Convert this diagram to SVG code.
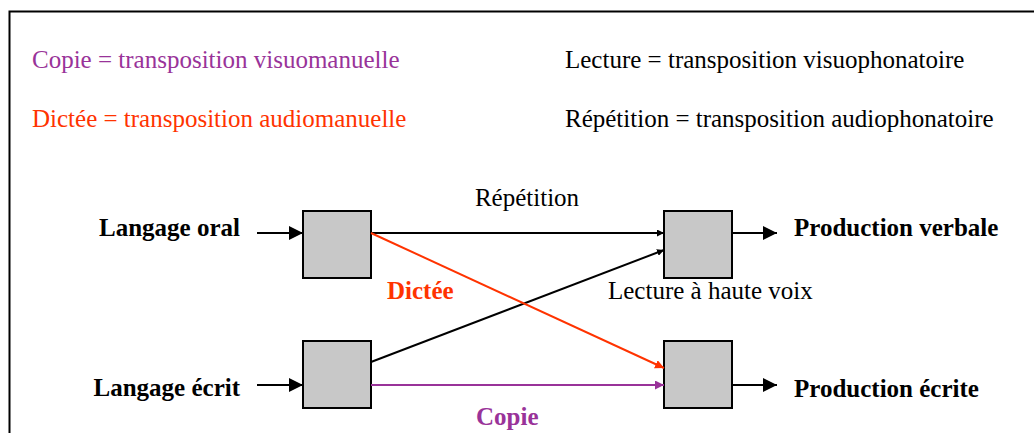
<svg xmlns="http://www.w3.org/2000/svg" width="1034" height="433" viewBox="0 0 1034 433">
<style>
text{font-family:"Liberation Serif","Times New Roman",serif;font-size:25px;}
.b{font-weight:bold;}
.box{fill:#c8c8c8;stroke:#000;stroke-width:2;}
.k{stroke:#000;stroke-width:2;fill:none;}
.r{stroke:#ff3300;stroke-width:2;fill:none;}
.p{stroke:#993399;stroke-width:2;fill:none;}
</style>
<defs>
<marker id="ab" viewBox="0 0 10 10" refX="10" refY="5" markerWidth="7" markerHeight="7" markerUnits="userSpaceOnUse" orient="auto"><path d="M0,0L10,5L0,10z" fill="#000"/></marker>
<marker id="abL" viewBox="0 0 10 10" refX="10" refY="5" markerWidth="14" markerHeight="14" markerUnits="userSpaceOnUse" orient="auto"><path d="M0,0L10,5L0,10z" fill="#000"/></marker>
<marker id="ar" viewBox="0 0 10 10" refX="10" refY="5" markerWidth="9" markerHeight="9" markerUnits="userSpaceOnUse" orient="auto"><path d="M0,0L10,5L0,10z" fill="#ff3300"/></marker>
<marker id="ap" viewBox="0 0 10 10" refX="10" refY="5" markerWidth="9" markerHeight="9" markerUnits="userSpaceOnUse" orient="auto"><path d="M0,0L10,5L0,10z" fill="#993399"/></marker>
</defs>
<rect width="1034" height="433" fill="#fff"/>
<path d="M9.5,433V11.5H1034" stroke="#000" stroke-width="2" fill="none"/>
<g id="legend">
<text x="32" y="68" fill="#993399">Copie = transposition visuomanuelle</text>
<text x="32" y="127" fill="#ff3300">Dictée = transposition audiomanuelle</text>
<text x="565" y="68" fill="#000">Lecture = transposition visuophonatoire</text>
<text x="565" y="127" fill="#000">Répétition = transposition audiophonatoire</text>
</g>
<g id="input-oral"><text class="b" x="240" y="236" text-anchor="end">Langage oral</text></g>
<g id="input-ecrit"><text class="b" x="240" y="396" text-anchor="end">Langage écrit</text></g>
<g id="box-oral"><rect class="box" x="303" y="211" width="68" height="67"/></g>
<g id="box-ecrit"><rect class="box" x="303" y="341" width="68" height="67"/></g>
<g id="box-verbal"><rect class="box" x="664" y="211" width="68" height="67"/></g>
<g id="box-ecrite"><rect class="box" x="664" y="341" width="68" height="67"/></g>
<g id="output-verbale"><text class="b" x="794" y="236">Production verbale</text></g>
<g id="output-ecrite"><text class="b" x="794" y="397">Production écrite</text></g>
<g id="connectors">
<line class="k" x1="257" y1="233" x2="303" y2="233" marker-end="url(#abL)"/>
<line class="k" x1="257" y1="385" x2="303" y2="385" marker-end="url(#abL)"/>
<line class="k" x1="732" y1="233" x2="777" y2="233" marker-end="url(#abL)"/>
<line class="k" x1="732" y1="385" x2="777" y2="385" marker-end="url(#abL)"/>
<line class="k" x1="371" y1="233" x2="664" y2="233" marker-end="url(#ab)"/>
<line class="k" x1="371" y1="362" x2="664" y2="250" marker-end="url(#ab)"/>
<line class="r" x1="371" y1="233" x2="664" y2="368" marker-end="url(#ar)"/>
<line class="p" x1="371" y1="385" x2="664" y2="385" marker-end="url(#ap)"/>
<text x="527" y="206" text-anchor="middle">Répétition</text>
<text class="b" x="387" y="299" fill="#ff3300">Dictée</text>
<text x="608" y="299">Lecture à haute voix</text>
<text class="b" x="476" y="425" fill="#993399">Copie</text>
</g>
</svg>
